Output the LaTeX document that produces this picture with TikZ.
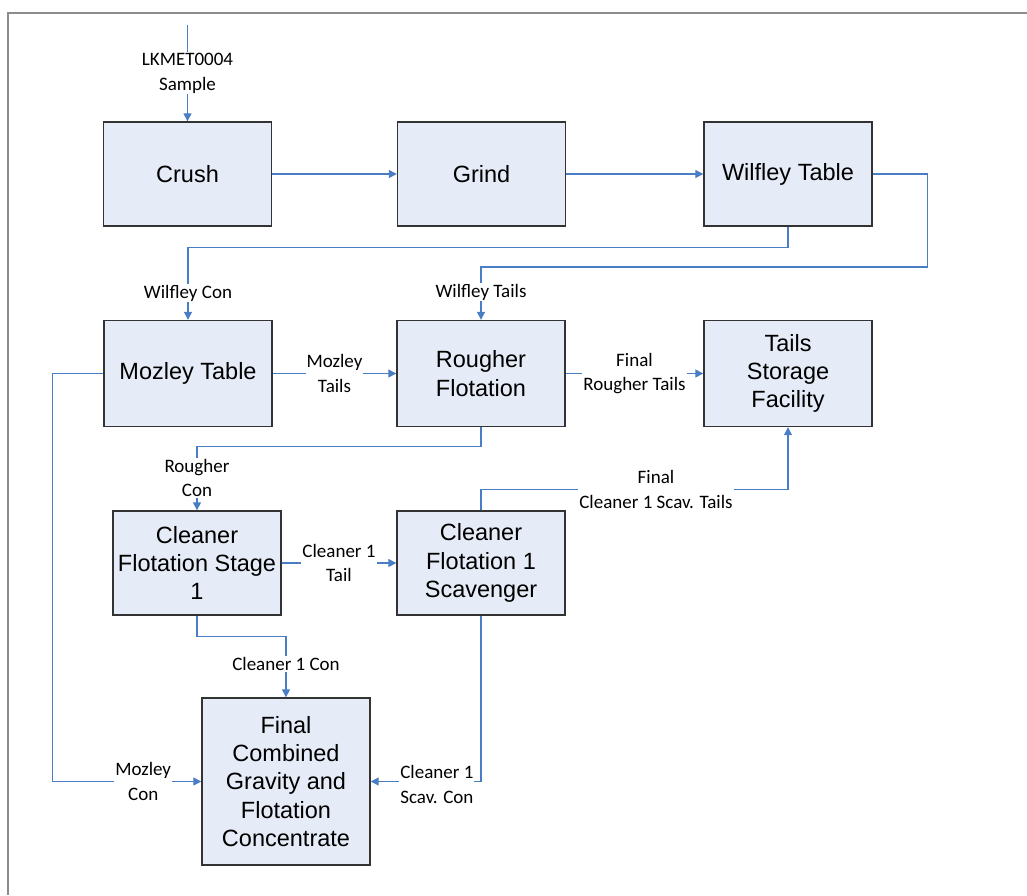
\documentclass[tikz,border=0pt]{standalone}
\usepackage{fontspec}
\setmainfont{Liberation Sans}
\newfontfamily\lblfont{Carlito}
\usetikzlibrary{arrows.meta}
\definecolor{flowblue}{HTML}{4A7EC4}
\definecolor{boxfill}{HTML}{E6ECF7}

\begin{document}
\begin{tikzpicture}[x=1pt,y=-1pt,
        procbox/.style={draw=black!80,fill=boxfill,line width=1.4pt,
            minimum width=168pt,minimum height=104pt,inner sep=2pt,align=center,
            font=\fontsize{23.5}{28.3}\selectfont},
        flow/.style={draw=flowblue,line width=1.3pt,-{Triangle[length=8pt,width=8pt]}},
        lbl/.style={fill=white,inner sep=1pt,align=center,
            font=\lblfont\fontsize{19}{24.5}\selectfont}]
    \useasboundingbox (0,0) rectangle (1027,895);
    \draw[black!45,line width=1.2pt] (8,895) -- (8,13) -- (1027,13);

    % process units
    \node[procbox] (crush) at (187.5,174) {Crush};
    \node[procbox] (grind) at (481.5,174) {Grind};
    \node[procbox] (wilfley) at (788,174) {Wilfley Table};
    \node[procbox,minimum height=106pt] (mozley) at (188,373.5) {Mozley Table};
    \node[procbox,minimum height=106pt] (rougher) at (481,373.5) {Rougher\\Flotation};
    \node[procbox,minimum height=106pt] (tails) at (788,373.5) {Tails\\Storage\\Facility};
    \node[procbox] (cleaner) at (197,563) {Cleaner\\Flotation Stage\\1};
    \node[procbox] (scav) at (481,563) {Cleaner\\Flotation 1\\Scavenger};
    \node[procbox,minimum height=167pt] (final) at (286,781.5)
        {Final\\Combined\\Gravity and\\Flotation\\Concentrate};

    % streams
    \coordinate (feed) at (187.5,25);
    \draw[flow] (feed) -- (crush.north) node[lbl,midway] {LKMET0004\\Sample};
    \draw[flow] (crush) -- (grind);
    \draw[flow] (grind) -- (wilfley);
    \draw[flow] (wilfley.south) -- ++(0,21) -| (mozley.north)
        node[lbl,pos=0.815] {Wilfley Con};
    \draw[flow] (wilfley.east) -- ++(55,0) -- ++(0,93) -| (rougher.north)
        node[lbl,pos=0.74] {Wilfley Tails};
    \draw[flow] (mozley) -- (rougher) node[lbl,midway] {Mozley\\Tails};
    \draw[flow] (rougher) -- (tails) node[lbl,midway] {Final\\Rougher Tails};
    \draw[flow] (mozley.west) -- ++(-51,0) |- (final.west)
        node[lbl,pos=0.805] {Mozley\\Con};
    \draw[flow] (rougher.south) -- ++(0,19) -| (cleaner.north)
        node[lbl,pos=0.746] {Rougher\\Con};
    \draw[flow] (cleaner) -- (scav) node[lbl,midway] {Cleaner 1\\Tail};
    \draw[flow] (scav.north) -- ++(0,-21) -| (tails.south)
        node[lbl,pos=0.285] {Final\\Cleaner 1 Scav. Tails};
    \draw[flow] (cleaner.south) -- ++(0,21) -| (final.north)
        node[lbl,pos=0.726] {Cleaner 1 Con};
    \draw[flow] (scav.south) |- (final.east)
        node[lbl,pos=0.70,yshift=-3pt] {Cleaner 1\\Scav. Con};
\end{tikzpicture}
\end{document}
